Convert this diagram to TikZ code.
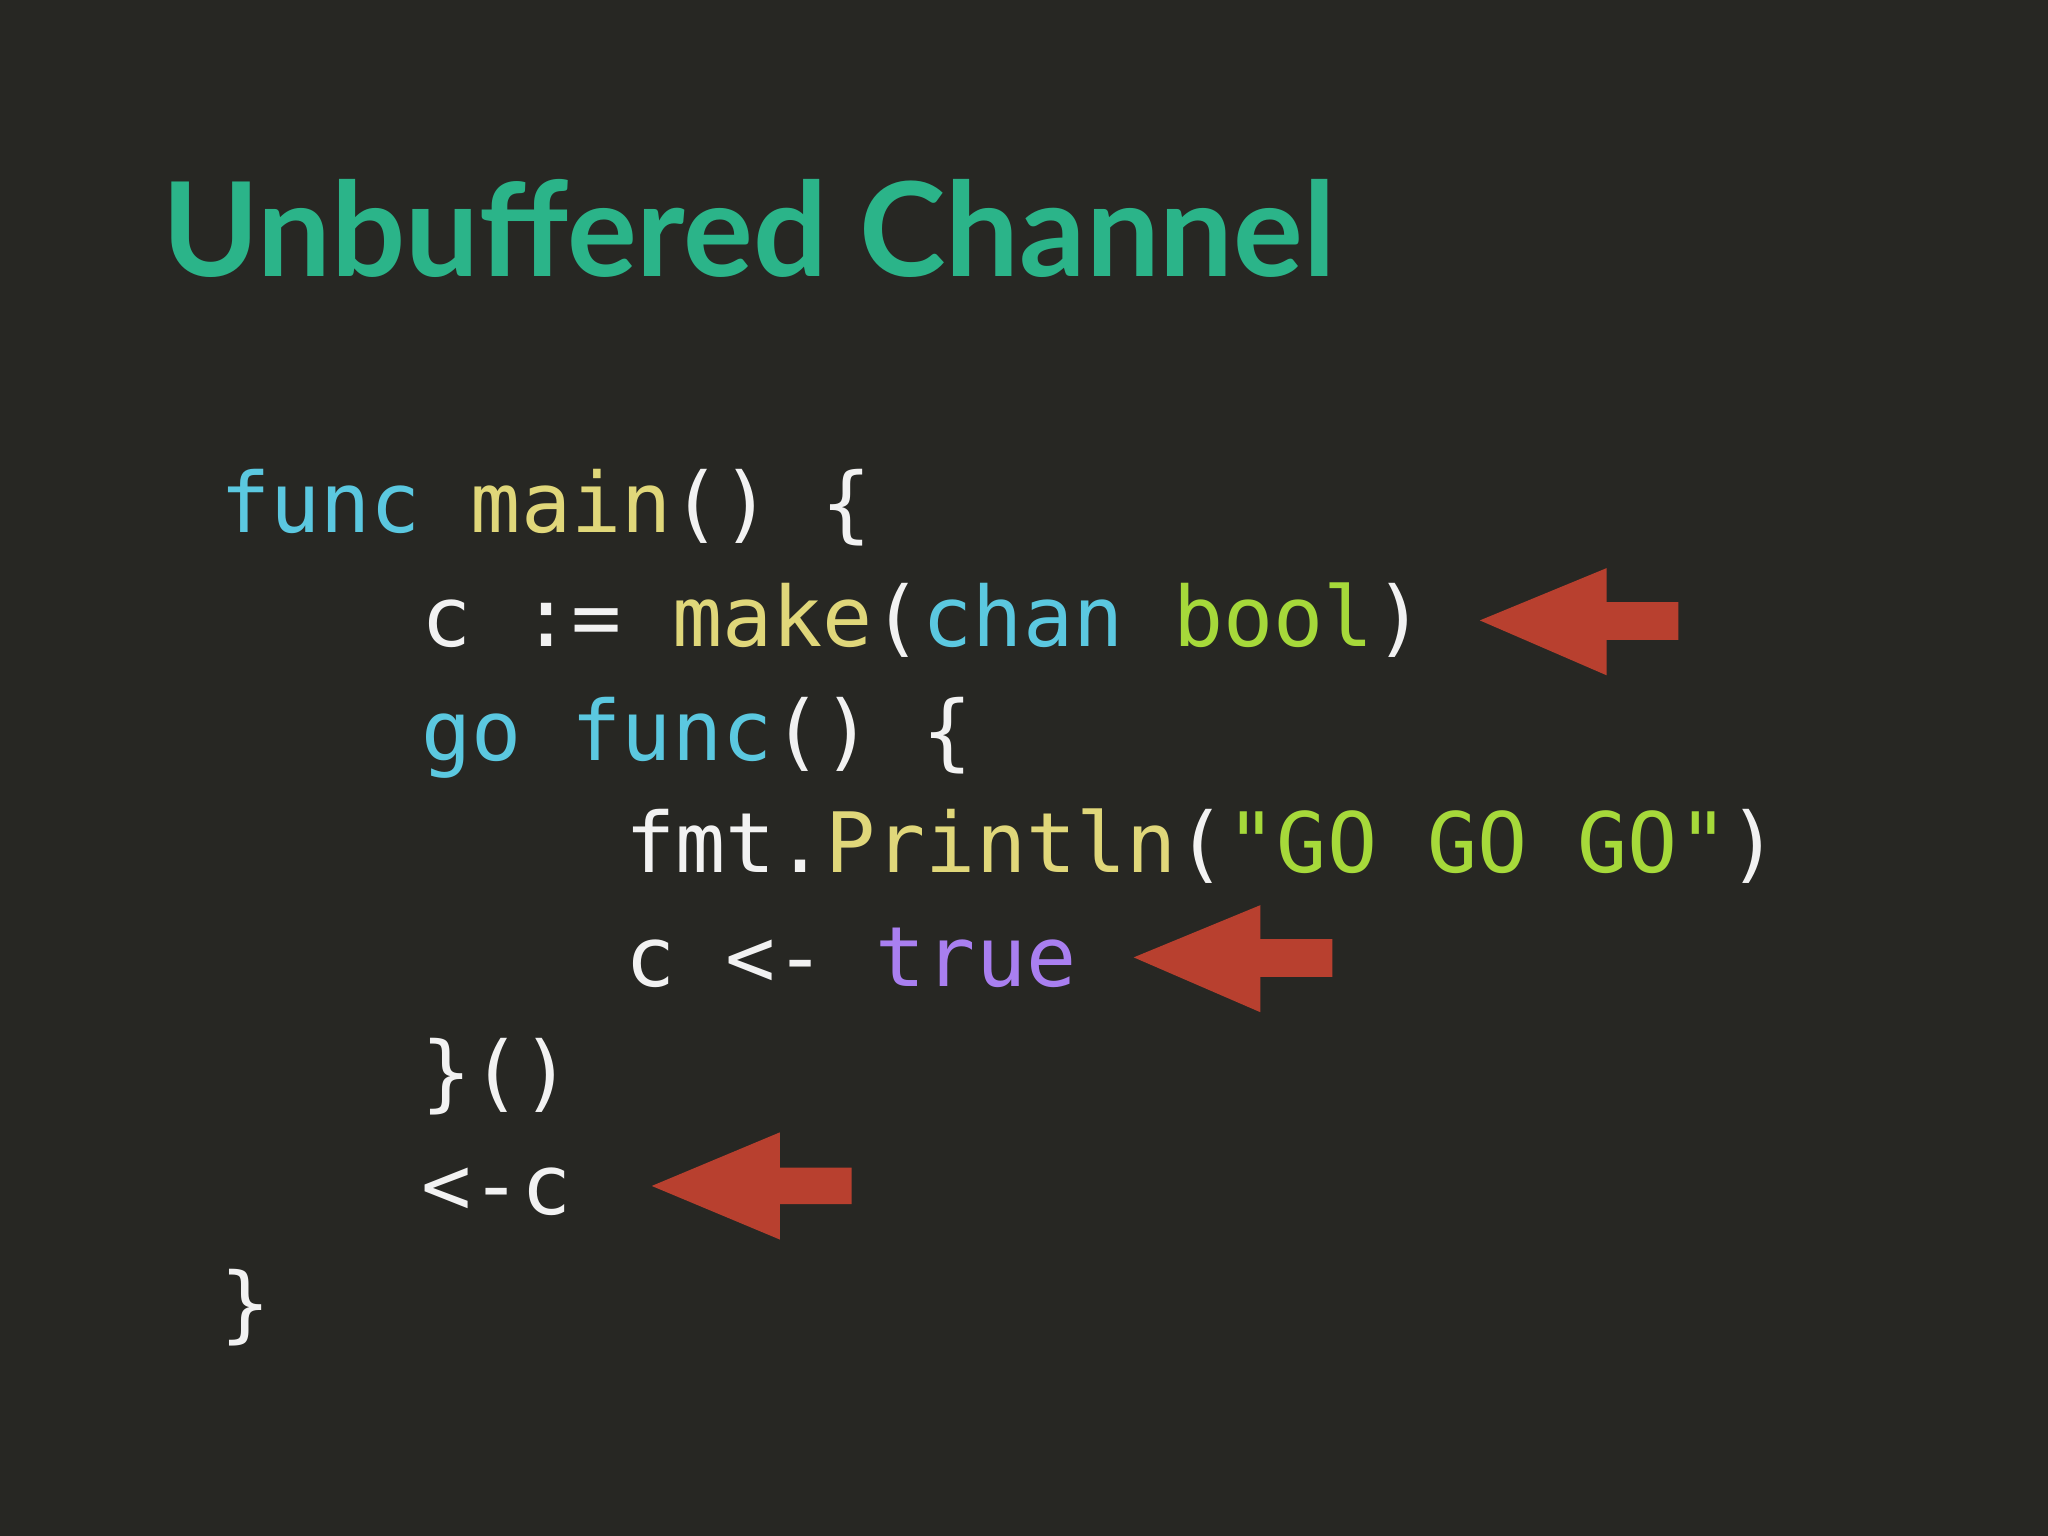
\documentclass[tikz,border=0pt]{standalone}
\usepackage{fontspec}
\setmonofont{DejaVu Sans Mono}
\newfontfamily\titlefont{Lato}
\definecolor{bg}{HTML}{272723}
\definecolor{kw}{HTML}{5BC8E0}
\definecolor{fn}{HTML}{E0D77A}
\definecolor{gr}{HTML}{A6D93A}
\definecolor{pu}{HTML}{A97FF0}
\definecolor{wh}{HTML}{F2F2F2}
\definecolor{ttl}{HTML}{2BB489}
\definecolor{arr}{HTML}{B8402F}
\begin{document}
\begin{tikzpicture}[x=0.013062cm,y=-0.013062cm,
  code/.style={anchor=base west,inner sep=0,font=\fontsize{23.7}{28}\ttfamily,text=wh},
  redarrow/.style={fill=arr,draw=none}]
\fill[bg] (0,0) rectangle (1568,1176);
\useasboundingbox (0,0) rectangle (1568,1176);
\node[anchor=base west,inner sep=0,text=ttl,font=\fontsize{37.2}{42}\titlefont\bfseries] (title) at (124,212) {Unbuffered Channel};
\node[code] (l1) at (168,408) {\textcolor{kw}{func} \textcolor{fn}{main}() \{};
\node[code] (l2) at (322,495) {c := \textcolor{fn}{make}(\textcolor{kw}{chan} \textcolor{gr}{bool})};
\node[code] (l3) at (322,582) {\textcolor{kw}{go} \textcolor{kw}{func}() \{};
\node[code] (l4) at (478,668) {fmt.\textcolor{fn}{Println}(\textcolor{gr}{"GO GO GO"})};
\node[code] (l5) at (478,755) {c <- \textcolor{pu}{true}};
\node[code] (l6) at (322,843) {\}()};
\node[code] (l7) at (322,930) {<-c};
\node[code] (l8) at (168,1020) {\}};
\fill[redarrow] (1133,475) -- (1230,435) -- (1230,461) -- (1285,461) -- (1285,490) -- (1230,490) -- (1230,517) -- cycle;
\fill[redarrow] (868,733) -- (965,693) -- (965,719) -- (1020,719) -- (1020,748) -- (965,748) -- (965,775) -- cycle;
\fill[redarrow] (499,908) -- (597,867) -- (597,894) -- (652,894) -- (652,922) -- (597,922) -- (597,949) -- cycle;
\end{tikzpicture}
\end{document}
